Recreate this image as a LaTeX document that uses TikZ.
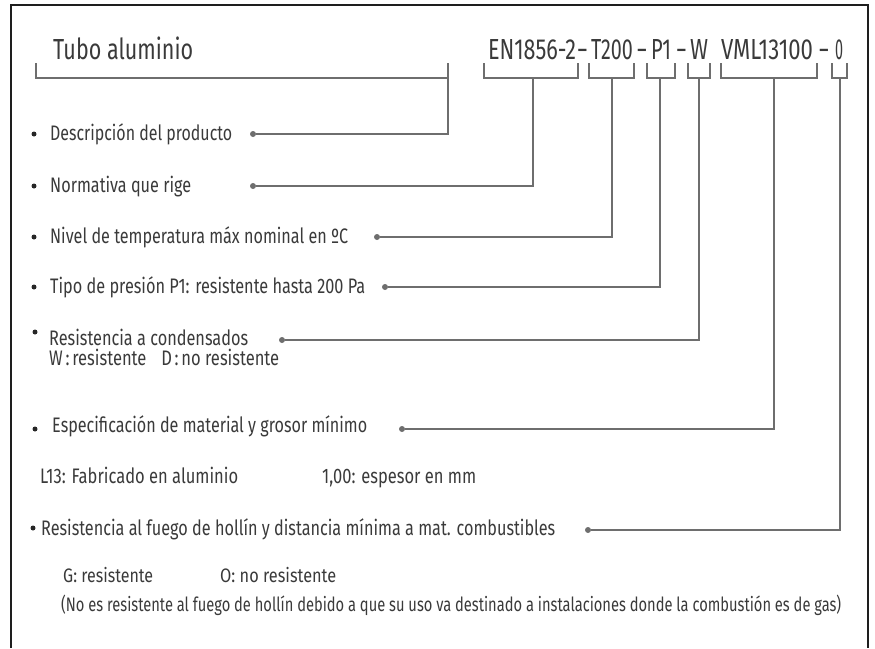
\documentclass[tikz,border=0pt]{standalone}
\usepackage{fontspec}
\setmainfont{Fira Sans}
\usepackage{graphicx}
\definecolor{txtc}{HTML}{3A3A3A}
\definecolor{linec}{HTML}{6E6E6E}
\definecolor{framec}{HTML}{1E1E1E}
\newcommand\fw[2]{\resizebox{#1pt}{\height}{#2}}
\tikzset{
  txt/.style={anchor=base west, inner sep=0pt, text=txtc, font=\fontsize{21}{25}\selectfont},
  small/.style={anchor=base west, inner sep=0pt, text=txtc, font=\fontsize{19.5}{23}\selectfont},
  big/.style={anchor=base, inner sep=0pt, text=txtc, font=\fontsize{29}{34}\selectfont},
  conn/.style={draw=linec, line width=1.4pt},
  gdot/.style={circle, fill=linec, inner sep=0pt, minimum size=6pt},
  bul/.style={circle, fill=black!85, inner sep=0pt, minimum size=5pt},
  frame/.style={draw=framec, line width=1.5pt}
}
\begin{document}
\begin{tikzpicture}[x=1pt,y=-1pt]
\useasboundingbox (0,0) rectangle (875,648);
% frame
\draw[frame] (11,648) -- (11,5) -- (868,5) -- (868,648);
% title and code
\node[big, anchor=base west] (title) at (53,59) {\fw{140}{Tubo aluminio}};
\node[big] (cEN) at (532,59) {\fw{88}{EN1856-2}};
\node[big] (h1) at (582.5,59) {-};
\node[big] (cT) at (612,59) {\fw{42}{T200}};
\node[big] (h2) at (642,59) {-};
\node[big] (cP) at (661,59) {\fw{20}{P1}};
\node[big] (h3) at (681.5,59) {-};
\node[big] (cW) at (699,59) {\fw{18}{W}};
\node[big] (cV) at (767,59) {\fw{92}{VML13100}};
\node[big] (h4) at (824,59) {-};
\node[big] (cO) at (839,59) {\fw{8}{0}};
% brackets
\draw[conn] (36,63) -- (36,78) -- (448,78) -- (448,63);
\draw[conn] (484,63) -- (484,78) -- (578,78) -- (578,63);
\draw[conn] (589,63) -- (589,78) -- (634,78) -- (634,63);
\draw[conn] (647,63) -- (647,78) -- (675,78) -- (675,63);
\draw[conn] (688,63) -- (688,78) -- (710,78) -- (710,63);
\draw[conn] (721,63) -- (721,78) -- (817,78) -- (817,63);
\draw[conn] (832,63) -- (832,78) -- (847,78) -- (847,63);
\coordinate (b1) at (448,78);
\coordinate (b2) at (533,78);
\coordinate (b3) at (612,78);
\coordinate (b4) at (660,78);
\coordinate (b5) at (699,78);
\coordinate (b6) at (774,78);
\coordinate (b7) at (840,78);
% dots
\node[gdot] (d1) at (253,134) {};
\node[gdot] (d2) at (253,186) {};
\node[gdot] (d3) at (377,237) {};
\node[gdot] (d4) at (385,287) {};
\node[gdot] (d5) at (282,340) {};
\node[gdot] (d6) at (402,429) {};
\node[gdot] (d7) at (588,530) {};
\draw[conn] (b1) |- (d1);
\draw[conn] (b2) |- (d2);
\draw[conn] (b3) |- (d3);
\draw[conn] (b4) |- (d4);
\draw[conn] (b5) |- (d5);
\draw[conn] (b6) |- (d6);
\draw[conn] (b7) |- (d7);
% bullets
\node[bul] (u1) at (34,134) {};
\node[bul] (u2) at (34,186) {};
\node[bul] (u3) at (34,237) {};
\node[bul] (u4) at (34,287) {};
\node[bul] (u5) at (35,332) {};
\node[bul] (u6) at (35,429) {};
\node[bul] (u7) at (33,528) {};
% texts
\node[txt] (t1) at (50,140) {\fw{182}{Descripción del producto}};
\node[txt] (t2) at (50,192) {\fw{141}{Normativa que rige}};
\node[txt] (t3) at (50,243) {\fw{298}{Nivel de temperatura máx nominal en ºC}};
\node[txt] (t4) at (50,293.5) {\fw{315}{Tipo de presión P1: resistente hasta 200 Pa}};
\node[txt] (t5) at (49,345.5) {\fw{199}{Resistencia a condensados}};
\node[txt] (t5b) at (49,365) {\fw{230}{W\,:\,resistente\hspace{0.9em}D\,:\,no resistente}};
\node[txt] (t6) at (52,432.5) {\fw{315}{Especificación de material y grosor mínimo}};
\node[txt] (t7a) at (40,483.5) {\fw{198}{L13: Fabricado en aluminio}};
\node[txt] (t7b) at (322,483.5) {\fw{154}{1,00: espesor en mm}};
\node[txt] (t8) at (41,535.5) {\fw{514}{Resistencia al fuego de hollín y distancia mínima a mat. combustibles}};
\node[small] (t9a) at (63,582) {\fw{90}{G: resistente}};
\node[small] (t9b) at (220,582) {\fw{116}{O: no resistente}};
\node[small] (t10) at (61,611) {\fw{780}{(No es resistente al fuego de hollín debido a que su uso va destinado a instalaciones donde la combustión es de gas)}};
\end{tikzpicture}
\end{document}
